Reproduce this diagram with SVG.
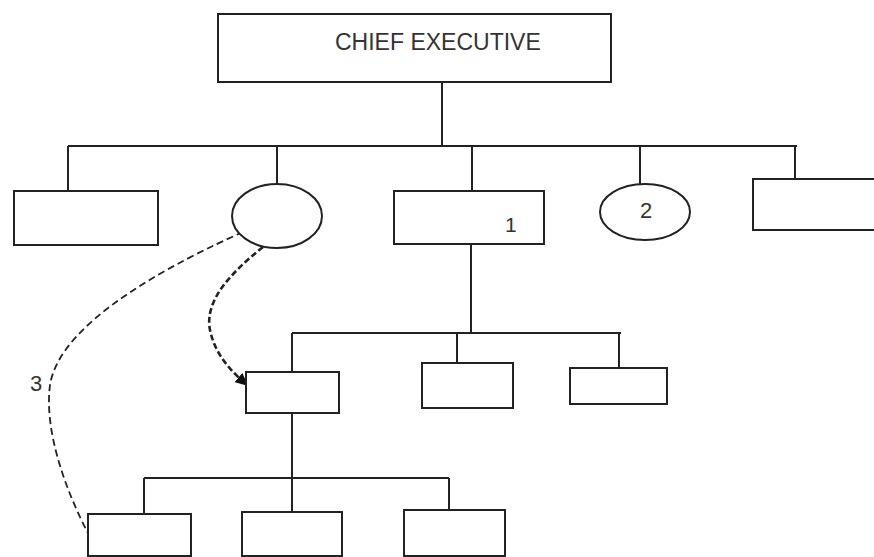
<svg xmlns="http://www.w3.org/2000/svg" width="874" height="557" viewBox="0 0 874 557">
<style>
.n{fill:#fff;stroke:#222;stroke-width:2}
.c{fill:none;stroke:#222;stroke-width:2}
.t{font-family:"Liberation Sans",Arial,sans-serif;fill:#333}
.d{fill:none;stroke:#222;stroke-width:1.8;stroke-dasharray:7,4}
.a{fill:none;stroke:#222;stroke-width:2.6;stroke-dasharray:6,3}
</style>
<defs>
<marker id="ah" markerWidth="13" markerHeight="12" refX="10" refY="6" orient="auto" markerUnits="userSpaceOnUse">
<path d="M0,0 L13,6 L0,12 Z" fill="#111"/>
</marker>
</defs>
<rect width="874" height="557" fill="#fff"/>
<g id="connectors">
<path class="c" d="M442,82 V146 M68,146 H797 M68,146 V191 M277,146 V184 M472,146 V191 M640,146 V184 M795,146 V179"/>
<path class="c" d="M471,244 V333 M292,333 H621 M292,333 V372 M457,333 V363 M619,333 V368"/>
<path class="c" d="M292,413 V512 M144,478 H449 M144,478 V514 M449,478 V510"/>
<path class="d" d="M243,232 C180,260 60,320 50,385 C44,430 65,490 90,537"/>
<path class="a" d="M263,247 C232,272 204,300 210,330 C215,355 232,372 246,384" marker-end="url(#ah)"/>
<text class="t" x="30" y="391" font-size="22">3</text>
</g>
<g id="ceo"><rect class="n" x="218" y="14" width="393" height="68"/><text class="t" x="335" y="50" font-size="23">CHIEF EXECUTIVE</text></g>
<g id="n1"><rect class="n" x="14" y="191" width="144" height="54"/></g>
<g id="n2"><ellipse class="n" cx="277" cy="216" rx="45" ry="32"/></g>
<g id="n3"><rect class="n" x="394" y="191" width="150" height="53"/><text class="t" x="505" y="232" font-size="21">1</text></g>
<g id="n4"><ellipse class="n" cx="645" cy="212" rx="45" ry="28"/><text class="t" x="646" y="218" font-size="22" text-anchor="middle">2</text></g>
<g id="n5"><rect class="n" x="753" y="179" width="130" height="51"/></g>
<g id="m1"><rect class="n" x="246" y="372" width="93" height="41"/></g>
<g id="m2"><rect class="n" x="422" y="363" width="91" height="45"/></g>
<g id="m3"><rect class="n" x="570" y="368" width="97" height="36"/></g>
<g id="b1"><rect class="n" x="88" y="514" width="103" height="42"/></g>
<g id="b2"><rect class="n" x="242" y="512" width="100" height="44"/></g>
<g id="b3"><rect class="n" x="404" y="510" width="101" height="46"/></g>
</svg>
